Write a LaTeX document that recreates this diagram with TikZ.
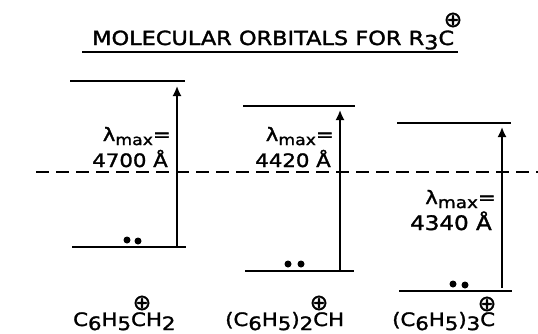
\documentclass[tikz,border=0pt]{standalone}
\usepackage{fontspec}
\usetikzlibrary{arrows.meta}
\setmainfont[FakeStretch=1.15,FakeBold=1.6]{DejaVu Sans}
\newfontfamily\chargefont[FakeBold=1.6]{DejaVu Sans}
\newcommand{\lowered}[1]{\raisebox{-.4ex}{#1}}
\newcommand{\plusmark}{{\chargefont\fontsize{22}{22}\selectfont ⊕}}
\begin{document}
\begin{tikzpicture}[
            x=1pt, y=-1pt,
            every node/.style={inner sep=0pt, text=black},
            level/.style={line width=1.5pt, black},
            jump/.style={line width=1.7pt, black, -{Latex[length=10pt,width=9pt]}},
            label/.style={font=\fontsize{18.5}{18.5}\selectfont, anchor=base east},
            formula/.style={font=\fontsize{18.5}{18.5}\selectfont, anchor=base west},
            pair/.style={circle, fill=black, minimum size=7pt},
            ]
            \useasboundingbox (0, 0) rectangle (538, 333);
            % title
            \node[anchor=base west, font=\fontsize{19.5}{19.5}\selectfont] (title) at (92, 45) {MOLECULAR ORBITALS FOR R\lowered{3}C};
            \node (titlecharge) at (453, 20) {\plusmark};
            \coordinate (ruleL) at (82, 52);
            \coordinate (ruleR) at (458, 52);
            \draw[level] (ruleL) -- (ruleR);
            % dashed line
            \coordinate (midL) at (36, 172);
            \coordinate (midR) at (538, 172);
            \draw[level, dash pattern=on 13pt off 7pt] (midL) -- (midR);
            % benzyl
            \coordinate (upA1) at (70, 81);
            \coordinate (upA2) at (185, 81);
            \coordinate (loA1) at (72, 247);
            \coordinate (loA2) at (186, 247);
            \coordinate (fromA) at (177, 247);
            \coordinate (toA) at (177, 86);
            \draw[level] (upA1) -- (upA2);
            \draw[level] (loA1) -- (loA2);
            \draw[jump] (fromA) -- (toA);
            \node[pair] (dotA1) at (127, 240) {};
            \node[pair] (dotA2) at (138, 241) {};
            \node[label] (lamA) at (171, 141) {λ\lowered{\fontsize{15}{15}\selectfont max}=};
            \node[label] (waveA) at (168, 167) {4700 Å};
            % benzhydryl
            \coordinate (upB1) at (243, 106);
            \coordinate (upB2) at (355, 106);
            \coordinate (loB1) at (245, 271);
            \coordinate (loB2) at (354, 271);
            \coordinate (fromB) at (340, 271);
            \coordinate (toB) at (340, 110);
            \draw[level] (upB1) -- (upB2);
            \draw[level] (loB1) -- (loB2);
            \draw[jump] (fromB) -- (toB);
            \node[pair] (dotB1) at (288, 264) {};
            \node[pair] (dotB2) at (301, 264) {};
            \node[label] (lamB) at (334, 141) {λ\lowered{\fontsize{15}{15}\selectfont max}=};
            \node[label] (waveB) at (331, 167) {4420 Å};
            % trityl
            \coordinate (upC1) at (397, 123);
            \coordinate (upC2) at (511, 123);
            \coordinate (loC1) at (399, 291);
            \coordinate (loC2) at (512, 291);
            \coordinate (fromC) at (502, 288);
            \coordinate (toC) at (502, 127);
            \draw[level] (upC1) -- (upC2);
            \draw[level] (loC1) -- (loC2);
            \draw[jump] (fromC) -- (toC);
            \node[pair] (dotC1) at (453, 284) {};
            \node[pair] (dotC2) at (465, 285) {};
            \node[label] (lamC) at (496, 204) {λ\lowered{\fontsize{16}{16}\selectfont max}=};
            \node[label, font=\fontsize{20}{20}\selectfont] (waveC) at (492, 230) {4340 Å};
            % names below
            \node[formula] (nameA) at (73, 326) {C\lowered{6}H\lowered{5}CH\lowered{2}};
            \node (chargeA) at (142, 303) {\plusmark};
            \node[formula] (nameB) at (225, 326) {(C\lowered{6}H\lowered{5})\lowered{2}CH};
            \node (chargeB) at (319, 303) {\plusmark};
            \node[formula] (nameC) at (392, 326) {(C\lowered{6}H\lowered{5})\lowered{3}C};
            \node (chargeC) at (487, 304) {\plusmark};
        \end{tikzpicture}
\end{document}
